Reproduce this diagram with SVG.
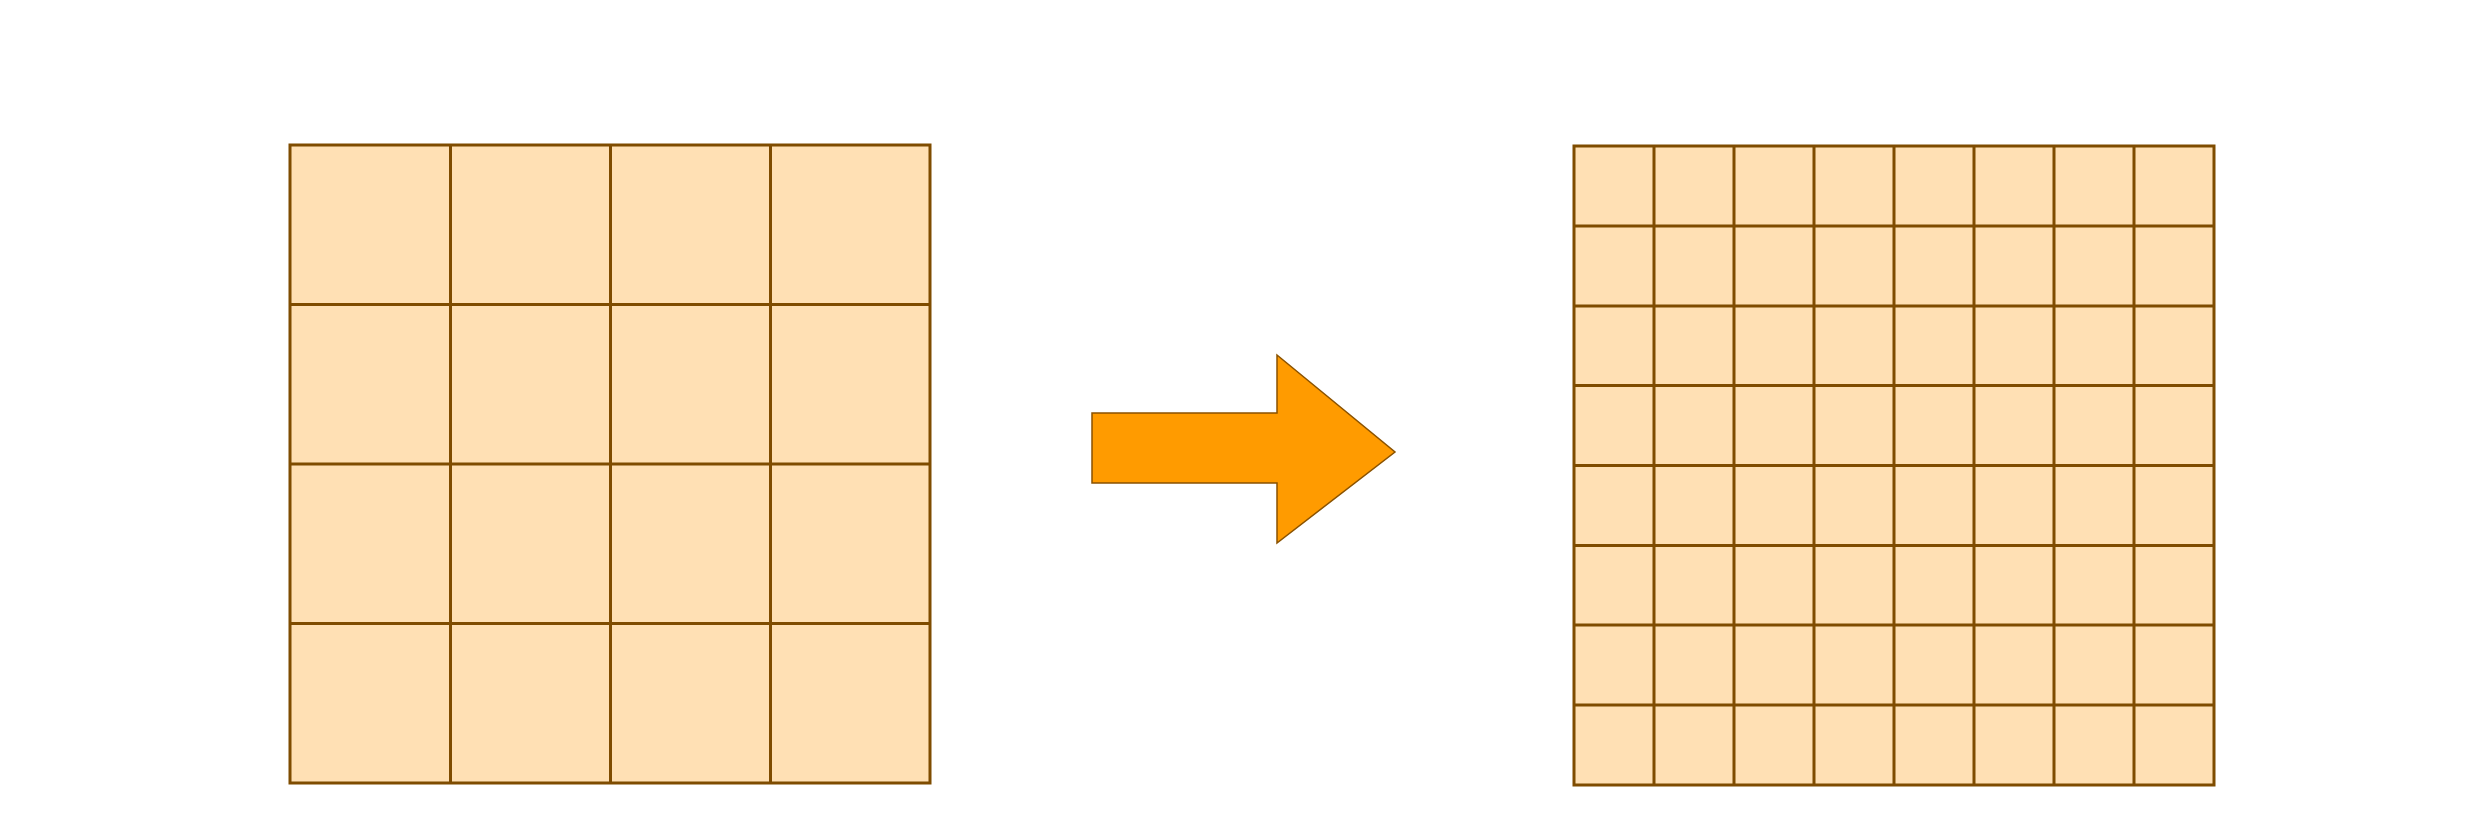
<svg xmlns="http://www.w3.org/2000/svg" width="2480" height="834" viewBox="0 0 2480 834">
<style>
.cell{fill:#FFE0B4;stroke:none}
.ln{stroke:#7F4C00;stroke-width:3;fill:none;stroke-linecap:square}
.arr{fill:#FF9B00;stroke:#8A5200;stroke-width:1.5;stroke-linejoin:miter}
</style>
<rect width="2480" height="834" fill="#FFFFFF"/>
<g id="grid-4x4">
<rect class="cell" x="290" y="145" width="640" height="638"/>
<path class="ln" d="M290,145H930V783H290Z M450.5,145V783 M610.5,145V783 M770.5,145V783 M290,304.5H930 M290,464H930 M290,623.5H930"/>
</g>
<g id="arrow">
<polygon class="arr" points="1092,413 1277,413 1277,355 1395,452 1277,543 1277,483 1092,483"/>
</g>
<g id="grid-8x8">
<rect class="cell" x="1574" y="146" width="640" height="639"/>
<path class="ln" d="M1574,146H2214V785H1574Z M1654,146V785 M1734,146V785 M1814,146V785 M1894,146V785 M1974,146V785 M2054,146V785 M2134,146V785 M1574,226H2214 M1574,306H2214 M1574,385.5H2214 M1574,465.5H2214 M1574,545.5H2214 M1574,625H2214 M1574,705H2214"/>
</g>
<g id="connectors"></g>
</svg>
